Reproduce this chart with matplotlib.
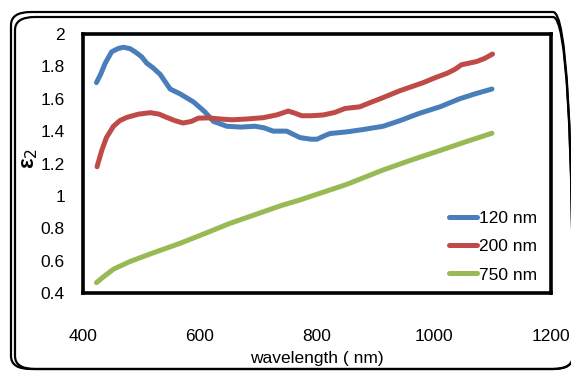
import matplotlib
matplotlib.use("Agg")
import matplotlib.pyplot as plt
from matplotlib.patches import FancyBboxPatch
from matplotlib.ticker import FuncFormatter

plt.rcParams["font.family"] = ["Liberation Sans Narrow", "Liberation Sans", "DejaVu Sans"]

# --- data ---
wl_120 = [423, 430, 438, 449, 460, 469, 480, 489, 500, 509, 520, 532, 549, 566, 589,
          608, 623, 646, 670, 694, 710, 725, 748, 771, 790, 800, 812, 822, 850, 879,
          913, 942, 975, 1010, 1044, 1070, 1099]
eps_120 = [1.70, 1.75, 1.82, 1.89, 1.91, 1.918, 1.91, 1.89, 1.86, 1.82, 1.79, 1.75, 1.66,
           1.63, 1.58, 1.52, 1.46, 1.43, 1.425, 1.43, 1.42, 1.40, 1.40, 1.36, 1.35, 1.35,
           1.37, 1.385, 1.395, 1.41, 1.43, 1.465, 1.51, 1.55, 1.60, 1.63, 1.66]

wl_200 = [424, 432, 440, 452, 463, 475, 495, 515, 530, 543, 557, 571, 585, 597, 615, 634,
          655, 680, 708, 731, 751, 763, 774, 790, 811, 830, 848, 873, 890, 908, 925, 942,
          962, 982, 1002, 1022, 1035, 1047, 1060, 1073, 1087, 1100]
eps_200 = [1.18, 1.28, 1.36, 1.43, 1.465, 1.485, 1.505, 1.514, 1.505, 1.485, 1.465, 1.45,
           1.46, 1.48, 1.482, 1.475, 1.47, 1.475, 1.483, 1.50, 1.524, 1.51, 1.495, 1.495,
           1.50, 1.515, 1.54, 1.55, 1.575, 1.60, 1.625, 1.65, 1.675, 1.70, 1.73, 1.757,
           1.78, 1.81, 1.82, 1.83, 1.85, 1.876]

wl_750 = [423, 435, 452, 480, 520, 566, 610, 651, 695, 737, 771, 805, 850, 913, 960, 1010,
          1055, 1099]
eps_750 = [0.464, 0.50, 0.547, 0.594, 0.648, 0.707, 0.77, 0.83, 0.885, 0.938, 0.975, 1.016,
           1.07, 1.16, 1.22, 1.28, 1.335, 1.387]

series_labels = ["120 nm", "200 nm", "750 nm"]
series_colors = ["#4a7ebb", "#be4b48", "#98b954"]

x_ticks = [400, 600, 800, 1000, 1200]
y_ticks = [0.4, 0.6, 0.8, 1.0, 1.2, 1.4, 1.6, 1.8, 2.0]

W, H = 571, 372
fig = plt.figure(figsize=(W / 100, H / 100), dpi=100, facecolor="white")

# rounded double border, cut off at the right edge of the picture
for left, top in [(11, 12), (15, 17)]:
    box = FancyBboxPatch((left / W, (H - 369) / H), (573 - left) / W, (369 - top) / H,
                         boxstyle="round,pad=0,rounding_size=0.035",
                         transform=fig.transFigure, fill=False, edgecolor="black",
                         linewidth=1.6, clip_on=False)
    fig.patches.append(box)

ax = fig.add_axes([83 / W, (H - 293) / H, (551 - 83) / W, (293 - 34) / H])
ax.set_facecolor("white")

for wl, eps, lab, col in zip([wl_120, wl_200, wl_750], [eps_120, eps_200, eps_750],
                             series_labels, series_colors):
    ax.plot(wl, eps, color=col, linewidth=3.6, label=lab, solid_capstyle="round")

ax.set_xlim(400, 1200)
ax.set_ylim(0.4, 2.0)
ax.set_xticks(x_ticks)
ax.set_yticks(y_ticks)
ax.yaxis.set_major_formatter(FuncFormatter(lambda v, p: f"{v:g}"))
ax.tick_params(axis="both", length=0, labelsize=12.5)
ax.tick_params(axis="y", pad=13)
ax.tick_params(axis="x", pad=26)

for s in ax.spines.values():
    s.set_linewidth(2.6)
    s.set_edgecolor("black")

ax.set_xlabel("wavelength ( nm)", fontsize=12.5, labelpad=5)
fig.text(30 / W, 1 - 158 / H, "ε$_2$", rotation=90, ha="center", va="center",
         fontsize=16, fontweight="bold")

ax.legend(loc="lower right", bbox_to_anchor=(1.004, -0.02), frameon=False, fontsize=12.5,
          handlelength=1.6, handletextpad=0.15, labelspacing=0.75)

fig.savefig("out.png", dpi=100, facecolor="white")
